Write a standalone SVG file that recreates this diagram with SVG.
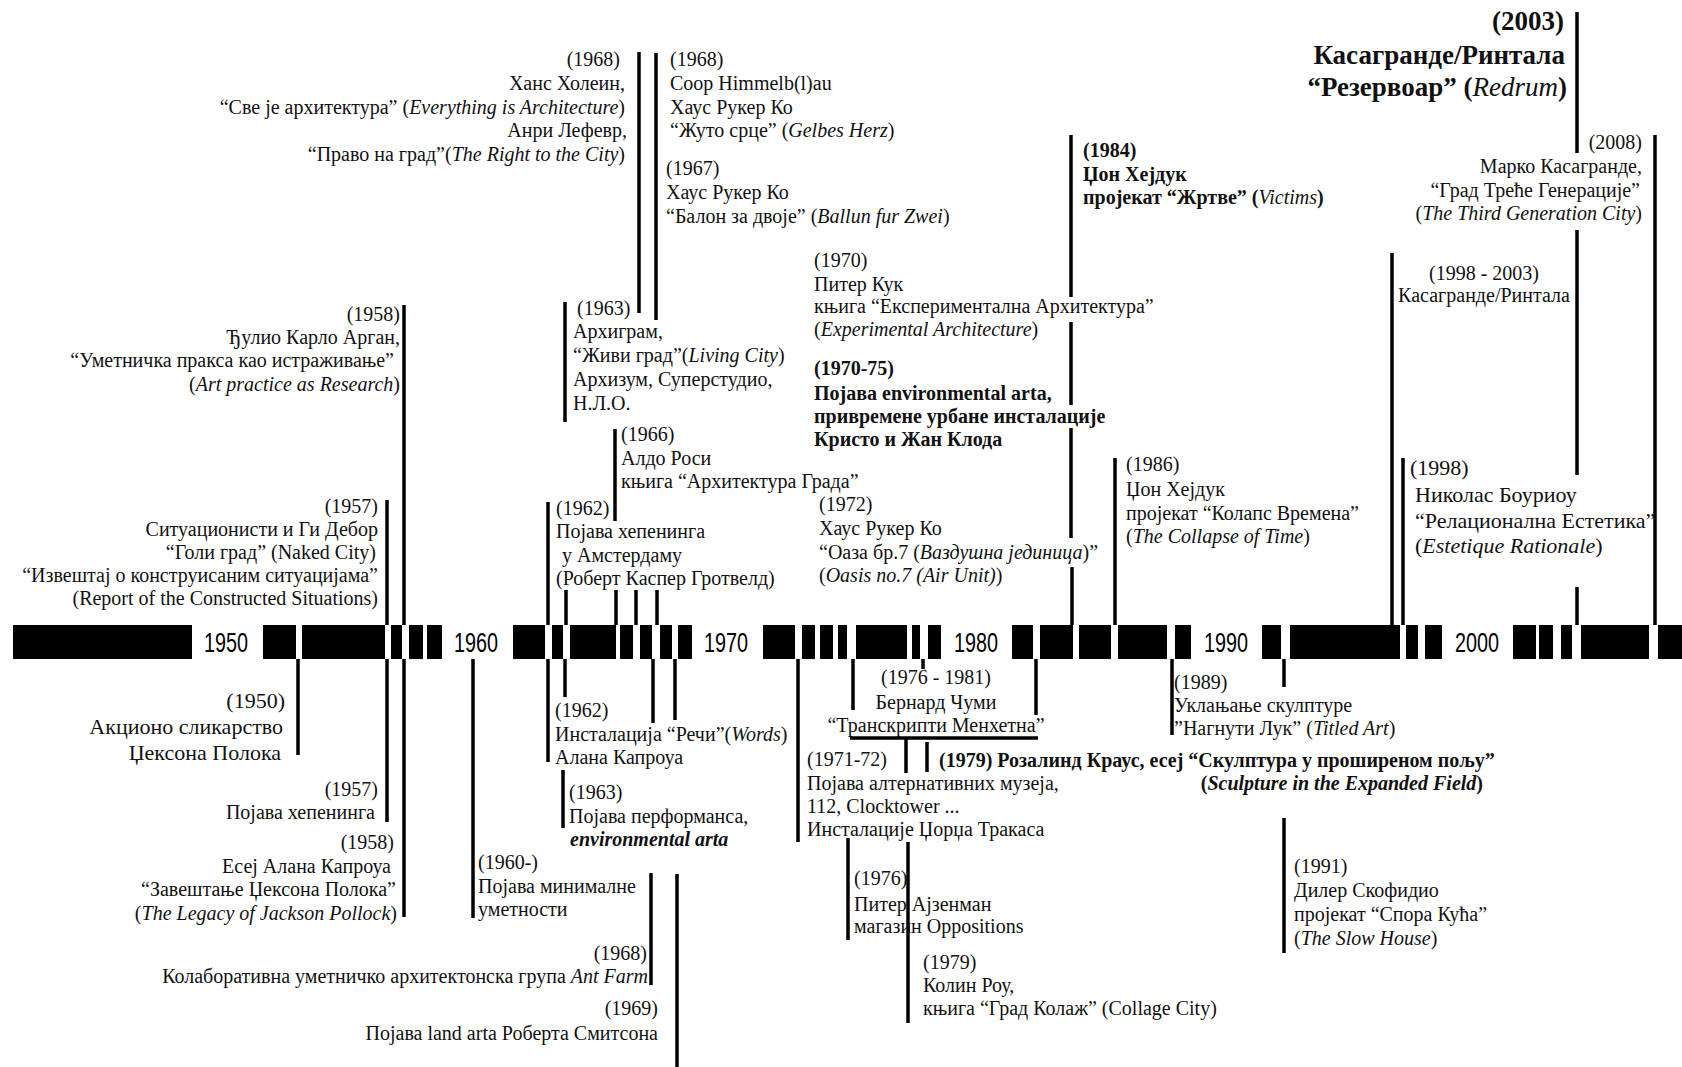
<svg xmlns="http://www.w3.org/2000/svg" width="1682" height="1067" viewBox="0 0 1682 1067">
<style>
.t{font-family:"Liberation Serif","Times New Roman",serif;font-size:20px;fill:#111}
.big{font-size:22px}
.h{font-size:27px;font-weight:bold}
.b{font-weight:bold}
.i{font-style:italic}
.e{text-anchor:end}
.m{text-anchor:middle}
.yr{font-family:"Liberation Sans",Arial,sans-serif;font-size:28px;fill:#000;text-anchor:middle}
.ln line{stroke:#000;stroke-width:3.5}
.bar rect{fill:#000}
</style>
<rect width="1682" height="1067" fill="#fff"/>
<g id="timeline" class="bar">
<rect x="13" y="625" width="179" height="34"/>
<rect x="263" y="625" width="33" height="34"/>
<rect x="302" y="625" width="83" height="34"/>
<rect x="391" y="625" width="11" height="34"/>
<rect x="409" y="625" width="14" height="34"/>
<rect x="427" y="625" width="15" height="34"/>
<rect x="513" y="625" width="32" height="34"/>
<rect x="552" y="625" width="11" height="34"/>
<rect x="570" y="625" width="46" height="34"/>
<rect x="620" y="625" width="13" height="34"/>
<rect x="640" y="625" width="12" height="34"/>
<rect x="660" y="625" width="12" height="34"/>
<rect x="678" y="625" width="14" height="34"/>
<rect x="763" y="625" width="32" height="34"/>
<rect x="802" y="625" width="13" height="34"/>
<rect x="820" y="625" width="13" height="34"/>
<rect x="838" y="625" width="9" height="34"/>
<rect x="856" y="625" width="51" height="34"/>
<rect x="912" y="625" width="8" height="34"/>
<rect x="928" y="625" width="13" height="34"/>
<rect x="1012" y="625" width="21" height="34"/>
<rect x="1040" y="625" width="33" height="34"/>
<rect x="1079" y="625" width="32" height="34"/>
<rect x="1118" y="625" width="49" height="34"/>
<rect x="1175" y="625" width="16" height="34"/>
<rect x="1262" y="625" width="19" height="34"/>
<rect x="1290" y="625" width="110" height="34"/>
<rect x="1406" y="625" width="12" height="34"/>
<rect x="1425" y="625" width="17" height="34"/>
<rect x="1513" y="625" width="23" height="34"/>
<rect x="1539" y="625" width="14" height="34"/>
<rect x="1561" y="625" width="11" height="34"/>
<rect x="1581" y="625" width="68" height="34"/>
<rect x="1658" y="625" width="24" height="34"/>
<text class="yr" x="226" y="652" textLength="44" lengthAdjust="spacingAndGlyphs">1950</text>
<text class="yr" x="476" y="652" textLength="44" lengthAdjust="spacingAndGlyphs">1960</text>
<text class="yr" x="726" y="652" textLength="44" lengthAdjust="spacingAndGlyphs">1970</text>
<text class="yr" x="976" y="652" textLength="44" lengthAdjust="spacingAndGlyphs">1980</text>
<text class="yr" x="1226" y="652" textLength="44" lengthAdjust="spacingAndGlyphs">1990</text>
<text class="yr" x="1477" y="652" textLength="44" lengthAdjust="spacingAndGlyphs">2000</text>
</g>
<g id="connectors" class="ln">
<line x1="639" y1="52" x2="639" y2="313"/>
<line x1="656" y1="53" x2="656" y2="320"/>
<line x1="565" y1="302" x2="565" y2="422"/>
<line x1="404" y1="305" x2="404" y2="625"/>
<line x1="404" y1="659" x2="404" y2="917"/>
<line x1="387" y1="500" x2="387" y2="625"/>
<line x1="387" y1="659" x2="387" y2="822"/>
<line x1="298" y1="659" x2="298" y2="755"/>
<line x1="473" y1="659" x2="473" y2="918"/>
<line x1="548" y1="502" x2="548" y2="625"/>
<line x1="548" y1="659" x2="548" y2="762"/>
<line x1="566" y1="590" x2="566" y2="625"/>
<line x1="565" y1="659" x2="565" y2="697"/>
<line x1="615" y1="429" x2="615" y2="521"/>
<line x1="616" y1="590" x2="616" y2="625"/>
<line x1="636" y1="590" x2="636" y2="625"/>
<line x1="657" y1="590" x2="657" y2="625"/>
<line x1="653" y1="659" x2="653" y2="723"/>
<line x1="675" y1="659" x2="675" y2="720"/>
<line x1="798" y1="659" x2="798" y2="842"/>
<line x1="563" y1="770" x2="563" y2="828"/>
<line x1="651" y1="873" x2="651" y2="985"/>
<line x1="677" y1="874" x2="677" y2="1067"/>
<line x1="1071" y1="135" x2="1071" y2="297"/>
<line x1="1071" y1="322" x2="1071" y2="405"/>
<line x1="1071" y1="428" x2="1071" y2="538"/>
<line x1="1072" y1="567" x2="1072" y2="625"/>
<line x1="1115" y1="458" x2="1115" y2="625"/>
<line x1="1392" y1="253" x2="1392" y2="625"/>
<line x1="1403" y1="458" x2="1403" y2="625"/>
<line x1="1577" y1="12" x2="1577" y2="153"/>
<line x1="1577" y1="230" x2="1577" y2="475"/>
<line x1="1577" y1="587" x2="1577" y2="625"/>
<line x1="1655" y1="135" x2="1655" y2="625"/>
<line x1="853" y1="659" x2="853" y2="710"/>
<line x1="1036" y1="659" x2="1036" y2="715"/>
<line x1="923" y1="659" x2="923" y2="669"/>
<line x1="850" y1="738" x2="1038" y2="738"/>
<line x1="906" y1="738" x2="906" y2="773"/>
<line x1="927" y1="742" x2="927" y2="772"/>
<line x1="848" y1="838" x2="848" y2="940"/>
<line x1="908" y1="842" x2="908" y2="1023"/>
<line x1="1172" y1="659" x2="1172" y2="735"/>
<line x1="1284" y1="659" x2="1284" y2="687"/>
<line x1="1284" y1="818" x2="1284" y2="953"/>
</g>
<g id="n1968-hollein" class="t e">
<text x="620" y="66">(1968)</text>
<text x="625" y="90">Ханс Холеин,</text>
<text x="625" y="114">“Све је архитектура” (<tspan class="i">Everything is Architecture</tspan>)</text>
<text x="627" y="137">Анри Лефевр,</text>
<text x="625" y="161">“Право на град”(<tspan class="i">The Right to the City</tspan>)</text>
</g>
<g id="n1968-coop" class="t">
<text x="670" y="66">(1968)</text>
<text x="670" y="90">Coop Himmelb(l)au</text>
<text x="670" y="114">Хаус Рукер Ко</text>
<text x="670" y="137">“Жуто срце” (<tspan class="i">Gelbes Herz</tspan>)</text>
</g>
<g id="n1967" class="t">
<text x="666" y="175">(1967)</text>
<text x="666" y="199">Хаус Рукер Ко</text>
<text x="666" y="223">“Балон за двоје” (<tspan class="i">Ballun fur Zwei</tspan>)</text>
</g>
<g id="n1963-archigram" class="t">
<text x="577" y="315">(1963)</text>
<text x="573" y="338">Архиграм,</text>
<text x="573" y="362">“Живи град”(<tspan class="i">Living City</tspan>)</text>
<text x="573" y="386">Архизум, Суперстудио,</text>
<text x="573" y="410">Н.Л.О.</text>
</g>
<g id="n1958-argan" class="t e">
<text x="400" y="321">(1958)</text>
<text x="400" y="344">Ђулио Карло Арган,</text>
<text x="394" y="367">“Уметничка пракса као истраживање”</text>
<text x="400" y="391">(<tspan class="i">Art practice as Research</tspan>)</text>
</g>
<g id="n1957-situationists" class="t e">
<text x="378" y="513">(1957)</text>
<text x="378" y="536">Ситуационисти и Ги Дебор</text>
<text x="376" y="559">“Голи град” (Naked City)</text>
<text x="378" y="582">“Извештај о конструисаним ситуацијама”</text>
<text x="378" y="605">(Report of the Constructed Situations)</text>
</g>
<g id="n1950" class="t e big">
<text x="285" y="708">(1950)</text>
<text x="283" y="734">Акционо сликарство</text>
<text x="281" y="760">Џексона Полока</text>
</g>
<g id="n1957-happening" class="t e">
<text x="378" y="796">(1957)</text>
<text x="375" y="819">Појава хепенинга</text>
</g>
<g id="n1958-kaprow" class="t e">
<text x="394" y="849">(1958)</text>
<text x="391" y="873">Есеј Алана Капроуа</text>
<text x="396" y="896">“Завештање Џексона Полока”</text>
<text x="397" y="920">(<tspan class="i">The Legacy of Jackson Pollock</tspan>)</text>
</g>
<g id="n1960" class="t">
<text x="478" y="869">(1960-)</text>
<text x="478" y="893">Појава минималне</text>
<text x="478" y="916">уметности</text>
</g>
<g id="n1962-amsterdam" class="t">
<text x="556" y="515">(1962)</text>
<text x="556" y="538">Појава хепенинга</text>
<text x="562" y="562">у Амстердаму</text>
<text x="556" y="585">(Роберт Каспер Гротвелд)</text>
</g>
<g id="n1966" class="t">
<text x="621" y="441">(1966)</text>
<text x="621" y="465">Алдо Роси</text>
<text x="621" y="488">књига “Архитектура Града”</text>
</g>
<g id="n1962-words" class="t">
<text x="555" y="717">(1962)</text>
<text x="555" y="741">Инсталација “Речи”(<tspan class="i">Words</tspan>)</text>
<text x="555" y="764">Алана Капроуа</text>
</g>
<g id="n1963-performance" class="t">
<text x="569" y="799">(1963)</text>
<text x="569" y="823">Појава перформанса,</text>
<text x="570" y="846" class="b i">environmental arta</text>
</g>
<g id="n1968-antfarm" class="t e">
<text x="647" y="960">(1968)</text>
<text x="648" y="983">Колаборативна уметничко архитектонска група <tspan class="i">Ant Farm</tspan></text>
</g>
<g id="n1969" class="t e">
<text x="658" y="1015">(1969)</text>
<text x="658" y="1040">Појава land arta Роберта Смитсона</text>
</g>
<g id="n1970-cook" class="t">
<text x="814" y="267">(1970)</text>
<text x="814" y="291">Питер Кук</text>
<text x="814" y="313">књига “Експериментална Архитектура”</text>
<text x="814" y="336">(<tspan class="i">Experimental Architecture</tspan>)</text>
</g>
<g id="n1984-victims" class="t b">
<text x="1083" y="157">(1984)</text>
<text x="1083" y="181">Џон Хејдук</text>
<text x="1083" y="204">пројекат “Жртве” (<tspan class="i" font-weight="normal">Victims</tspan>)</text>
</g>
<g id="n1970-75" class="t b">
<text x="814" y="375">(1970-75)</text>
<text x="814" y="400">Појава environmental arta,</text>
<text x="814" y="423">привремене урбане инсталације</text>
<text x="814" y="446">Кристо и Жан Клода</text>
</g>
<g id="n1972" class="t">
<text x="819" y="511">(1972)</text>
<text x="819" y="535">Хаус Рукер Ко</text>
<text x="819" y="559">“Оаза бр.7 (<tspan class="i">Ваздушна јединица</tspan>)”</text>
<text x="819" y="582">(<tspan class="i">Oasis no.7 (Air Unit)</tspan>)</text>
</g>
<g id="n1986" class="t">
<text x="1126" y="471">(1986)</text>
<text x="1126" y="496">Џон Хејдук</text>
<text x="1126" y="520">пројекат “Колапс Времена”</text>
<text x="1126" y="543">(<tspan class="i">The Collapse of Time</tspan>)</text>
</g>
<g id="n1998-2003" class="t m">
<text x="1484" y="280">(1998 - 2003)</text>
<text x="1484" y="302">Касагранде/Ринтала</text>
</g>
<g id="n1998" class="t big">
<text x="1410" y="475">(1998)</text>
<text x="1415" y="502">Николас Боуриоу</text>
<text x="1415" y="528">“Релационална Естетика”</text>
<text x="1415" y="553">(<tspan class="i">Estetique Rationale</tspan>)</text>
</g>
<g id="n2008" class="t e">
<text x="1642" y="149">(2008)</text>
<text x="1642" y="173">Марко Касагранде,</text>
<text x="1640" y="197">“Град Треће Генерације”</text>
<text x="1642" y="220">(<tspan class="i">The Third Generation City</tspan>)</text>
</g>
<g id="n2003" class="t e h">
<text x="1564" y="30">(2003)</text>
<text x="1565" y="64">Касагранде/Ринтала</text>
<text x="1567" y="96">“Резервоар” (<tspan class="i" font-weight="normal">Redrum</tspan>)</text>
</g>
<g id="n1976-1981" class="t m">
<text x="936" y="684">(1976 - 1981)</text>
<text x="936" y="709">Бернард Чуми</text>
<text x="936" y="732">“Транскрипти Менхетна”</text>
</g>
<g id="n1971-72" class="t">
<text x="807" y="766">(1971-72)</text>
<text x="807" y="790">Појава алтернативних музеја,</text>
<text x="807" y="813">112, Clocktower ...</text>
<text x="807" y="836">Инсталације Џорџа Тракаса</text>
</g>
<g id="n1979-krauss" class="t b">
<text x="939" y="767">(1979) Розалинд Краус, есеј “Скулптура у проширеном пољу”</text>
<text x="1483" y="790" class="e">(<tspan class="i">Sculpture in the Expanded Field</tspan>)</text>
</g>
<g id="n1976-eisenman" class="t">
<text x="854" y="885">(1976)</text>
<text x="854" y="911">Питер Ајзенман</text>
<text x="854" y="933">магазин Oppositions</text>
</g>
<g id="n1979-rowe" class="t">
<text x="923" y="969">(1979)</text>
<text x="923" y="992">Колин Роу,</text>
<text x="923" y="1015">књига “Град Колаж” (Collage City)</text>
</g>
<g id="n1989" class="t">
<text x="1174" y="689">(1989)</text>
<text x="1174" y="712">Уклањање скулптуре</text>
<text x="1174" y="735">”Нагнути Лук” (<tspan class="i">Titled Art</tspan>)</text>
</g>
<g id="n1991" class="t">
<text x="1294" y="873">(1991)</text>
<text x="1294" y="897">Дилер Скофидио</text>
<text x="1294" y="921">пројекат “Спора Кућа”</text>
<text x="1294" y="945">(<tspan class="i">The Slow House</tspan>)</text>
</g>
</svg>
